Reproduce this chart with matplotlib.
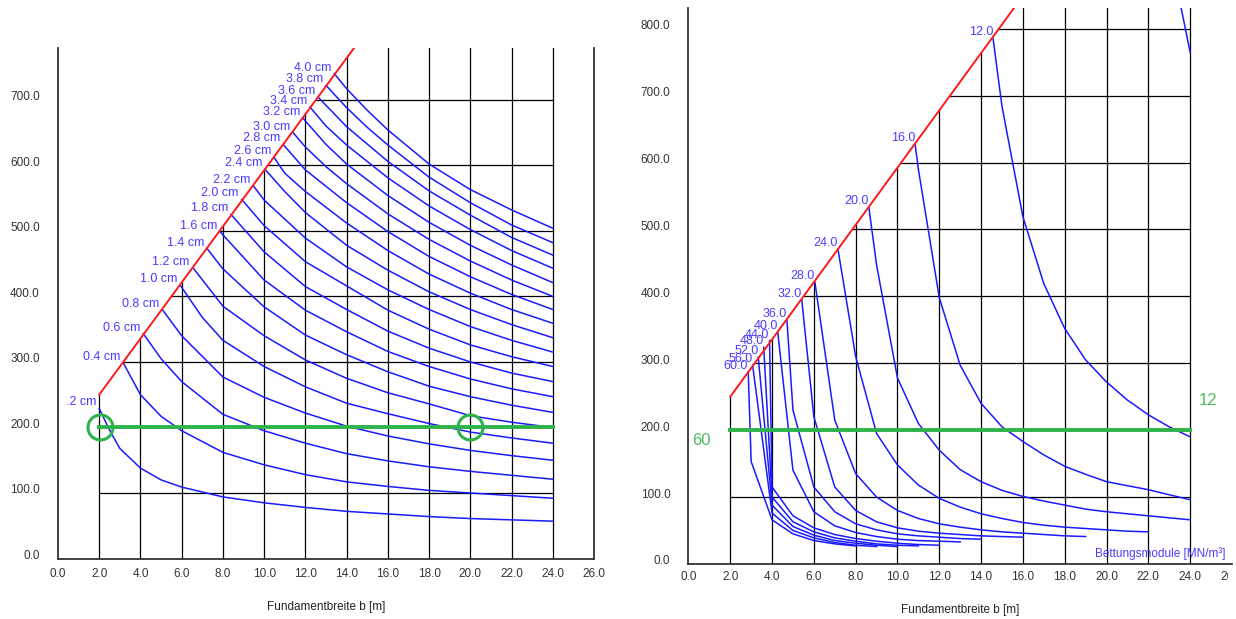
import numpy as np
import matplotlib
matplotlib.use("Agg")
import matplotlib.pyplot as plt
import matplotlib.transforms as mtransforms

plt.rcParams["font.family"] = ["Liberation Sans", "DejaVu Sans"]

# grenzlinie (rot)
red_x = [2.0, 16.0]
red_y = [250.0, 849.2]

# linkes diagramm: setzung s
left_labels = [".2 cm", "0.4 cm", "0.6 cm", "0.8 cm", "1.0 cm", "1.2 cm", "1.4 cm", "1.6 cm",
               "1.8 cm", "2.0 cm", "2.2 cm", "2.4 cm", "2.6 cm", "2.8 cm", "3.0 cm", "3.2 cm",
               "3.4 cm", "3.6 cm", "3.8 cm", "4.0 cm"]
left_b = [
    [2.0, 2.5, 3, 4, 5, 6, 8, 10, 12, 14, 16, 18, 20, 22, 24],
    [3.16, 4, 5, 6, 8, 10, 12, 14, 16, 18, 20, 22, 24],
    [4.14, 5, 6, 8, 10, 12, 14, 16, 18, 20, 22, 24],
    [5.06, 6, 8, 10, 12, 14, 16, 18, 20, 22, 24],
    [5.93, 7, 8, 10, 12, 14, 16, 18, 20, 22, 24],
    [6.54, 8, 10, 12, 14, 16, 18, 20, 22, 24],
    [7.23, 8, 10, 12, 14, 16, 18, 20, 22, 24],
    [7.86, 8, 10, 12, 14, 16, 18, 20, 22, 24],
    [8.39, 10, 12, 14, 16, 18, 20, 22, 24],
    [8.91, 10, 12, 14, 16, 18, 20, 22, 24],
    [9.47, 10, 12, 14, 16, 18, 20, 22, 24],
    [10.04, 11, 12, 14, 16, 18, 20, 22, 24],
    [10.48, 11, 12, 14, 16, 18, 20, 22, 24],
    [10.92, 12, 14, 16, 18, 20, 22, 24],
    [11.40, 12, 13, 14, 16, 18, 20, 22, 24],
    [11.88, 13, 14, 16, 18, 20, 22, 24],
    [12.22, 13, 14, 16, 18, 20, 22, 24],
    [12.62, 14, 16, 18, 20, 22, 24],
    [13.0, 14, 15, 16, 18, 20, 22, 24],
    [13.4, 14, 15, 16, 18, 20, 22, 24],
]
left_q = [
    [229, 196, 168, 138, 120, 109, 94, 85, 78, 72, 68, 64, 61, 59, 57],
    [299, 250, 217, 195, 162, 143, 128, 117, 110, 104, 100, 96, 92],
    [343, 305, 270, 220, 195, 176, 160, 149, 140, 133, 127, 121],
    [380, 340, 277, 246, 222, 202, 187, 175, 165, 157, 150],
    [417, 368, 333, 293, 262, 237, 221, 206, 193, 184, 176],
    [444, 385, 340, 303, 275, 253, 236, 218, 208, 200],
    [473, 442, 384, 341, 311, 285, 263, 247, 234, 223],
    [499, 494, 425, 379, 346, 316, 293, 274, 259, 247],
    [525, 468, 415, 380, 347, 321, 300, 283, 270],
    [548, 508, 453, 416, 379, 350, 326, 308, 293],
    [569, 547, 489, 445, 410, 380, 354, 333, 315],
    [594, 560, 528, 478, 440, 407, 380, 357, 337],
    [612, 588, 560, 512, 470, 434, 405, 380, 359],
    [632, 593, 543, 499, 461, 430, 403, 380],
    [650, 628, 598, 572, 526, 487, 454, 425, 400],
    [672, 632, 602, 554, 513, 478, 448, 421],
    [689, 660, 631, 581, 538, 502, 470, 443],
    [704, 659, 606, 561, 524, 490, 463],
    [722, 688, 658, 631, 582, 543, 509, 482],
    [740, 717, 684, 654, 602, 563, 532, 504],
]

# rechtes diagramm: bettungsmodul
right_labels = ["", "12.0", "16.0", "20.0", "24.0", "28.0", "32.0", "36.0", "40.0",
                "44.0", "48.0", "52.0", "56.0", "60.0"]
right_b = [
    [23.4, 24],
    [14.57, 15, 16, 17, 18, 19, 20, 21, 22, 23, 24],
    [10.84, 11, 12, 13, 14, 15, 16, 17, 18, 19, 20, 22, 24],
    [8.63, 9, 10, 11, 12, 13, 14, 15, 16, 17, 18, 19, 20, 22, 24],
    [7.15, 8, 9, 10, 11, 12, 13, 14, 15, 16, 17, 18, 19, 20, 21, 22],
    [6.05, 7, 8, 9, 10, 11, 12, 13, 14, 15, 16, 17, 18, 19],
    [5.42, 6, 7, 8, 9, 10, 11, 12, 13, 14, 15, 16],
    [4.71, 5, 6, 7, 8, 9, 10, 11, 12, 13, 14],
    [4.27, 5, 6, 7, 8, 9, 10, 11, 12, 13],
    [3.88, 4, 5, 6, 7, 8, 9, 10, 11, 12],
    [3.60, 4, 5, 6, 7, 8, 9, 10, 11],
    [3.34, 4, 5, 6, 7, 8, 9, 10],
    [3.07, 4, 5, 6, 7, 8, 9],
    [2.86, 3, 4, 5, 6, 7, 8],
]
right_q = [
    [857, 765],
    [786, 684, 519, 419, 352, 305, 272, 245, 223, 205, 190],
    [628, 590, 398, 297, 240, 205, 183, 163, 146, 134, 123, 111, 96],
    [533, 447, 278, 210, 170, 141, 123, 110, 101, 94, 88, 82, 78, 72, 66],
    [471, 310, 195, 148, 118, 98, 85, 75, 68, 62, 58, 55, 53, 51, 49, 48],
    [421, 215, 135, 100, 80, 68, 60, 55, 51, 48, 46, 44, 42, 41],
    [395, 220, 115, 80, 63, 54, 49, 46, 44, 42, 41, 40],
    [365, 230, 115, 78, 60, 51, 45, 42, 40, 38, 37],
    [347, 140, 78, 57, 47, 41, 37, 35, 34, 33],
    [334, 115, 72, 54, 44, 38, 34, 31, 29, 28],
    [324, 100, 63, 48, 39, 34, 30, 28, 27],
    [309, 88, 56, 43, 35, 31, 28, 26],
    [297, 76, 50, 39, 32, 28, 26],
    [287, 153, 66, 45, 35, 30, 27],
]

xticks = np.arange(0, 27, 2)
green_b = [2, 24]
green_q = [200, 200]
circle_b = [2.05, 20.0]
circle_q = [200, 200]

blue = "#1a1aff"
lblue = "#4a3cff"
green = "#2db34a"


def red_at(x):
    return np.interp(x, red_x, red_y)


def red_inv(y):
    return np.interp(y, red_y, red_x)


def setup(ax, ytop, ymaxtick, xpad):
    ax.set_xlim(0, 26)
    ax.set_ylim(0, ytop)
    ax.set_xticks(xticks)
    ax.set_xticklabels(["%.1f" % v for v in xticks])
    yt = np.arange(0, ymaxtick + 1, 100)
    ax.set_yticks(yt)
    ax.set_yticklabels(["%.1f" % v for v in yt])
    ax.tick_params(length=0, labelsize=8.5, labelcolor="#333333")
    ax.tick_params(axis="y", pad=13)
    ax.tick_params(axis="x", pad=xpad)
    off = mtransforms.ScaledTranslation(0, 4 / 100, fig.dpi_scale_trans)
    for t in ax.get_yticklabels():
        t.set_transform(t.get_transform() + off)
    for s in ["left", "bottom", "right"]:
        ax.spines[s].set_color("#333333")
        ax.spines[s].set_linewidth(1.3)
    ax.spines["top"].set_visible(False)
    ax.set_xlabel("Fundamentbreite b [m]", fontsize=8.5, color="#222222", labelpad=15)
    # raster nur unterhalb/rechts der grenzlinie
    for x in range(2, 25, 2):
        ax.plot([x, x], [0, min(red_at(x), ytop)], color="black", lw=0.9, zorder=1)
    for y in range(100, ymaxtick + 1, 100):
        ax.plot([max(2, red_inv(y)), 24], [y, y], color="black", lw=0.9, zorder=1)
    ax.plot(red_x, red_y, color="#ff1a1a", lw=1.4, zorder=3)


fig = plt.figure(figsize=(12.36, 6.19), dpi=100)
ax1 = fig.add_axes([0.0469, 0.0977, 0.4337, 0.8247])
ax2 = fig.add_axes([0.5570, 0.0889, 0.4397, 0.8982])

setup(ax1, 779, 700, 7)
setup(ax2, 831, 800, 5)
ax2.spines["right"].set_visible(False)

# screenshot endet rechts: letzte beschriftung abgeschnitten
fig.canvas.draw()
last = ax2.get_xticklabels()[-1]
last.set_clip_on(True)
last.set_clip_box(mtransforms.Bbox([[0, 0], [1228, 619]]))

left_off = mtransforms.ScaledTranslation(-3 / 100, 0, fig.dpi_scale_trans)
for lbl, b, q in zip(left_labels, left_b, left_q):
    ax1.plot(b, q, color=blue, lw=1.1, zorder=2)
    ax1.text(b[0], q[0], lbl, fontsize=9, color=lblue, ha="right", va="bottom",
             transform=ax1.transData + left_off, clip_on=True)

ax1.plot(green_b, green_q, color=green, lw=2.8, zorder=4)
ax1.plot(circle_b, circle_q, ls="none", marker="o", ms=18, mfc="none",
         mec=green, mew=2.2, zorder=5)

for lbl, b, q in zip(right_labels, right_b, right_q):
    ax2.plot(b, q, color=blue, lw=1.1, zorder=2)
    if lbl:
        ax2.text(b[0], q[0], lbl, fontsize=9, color=lblue, ha="right", va="bottom",
                 clip_on=True)

ax2.plot(green_b, green_q, color=green, lw=2.8, zorder=4)
ax2.text(0.6, 184, "60", fontsize=12, color="#4cbb5c", ha="center", va="center")
ax2.text(24.85, 244, "12", fontsize=12, color="#4cbb5c", ha="center", va="center")
ax2.text(25.7, 16, "Bettungsmodule [MN/m\u00b3]", fontsize=8.5, color=lblue,
         ha="right", va="center")

fig.savefig("out.png", dpi=100)
